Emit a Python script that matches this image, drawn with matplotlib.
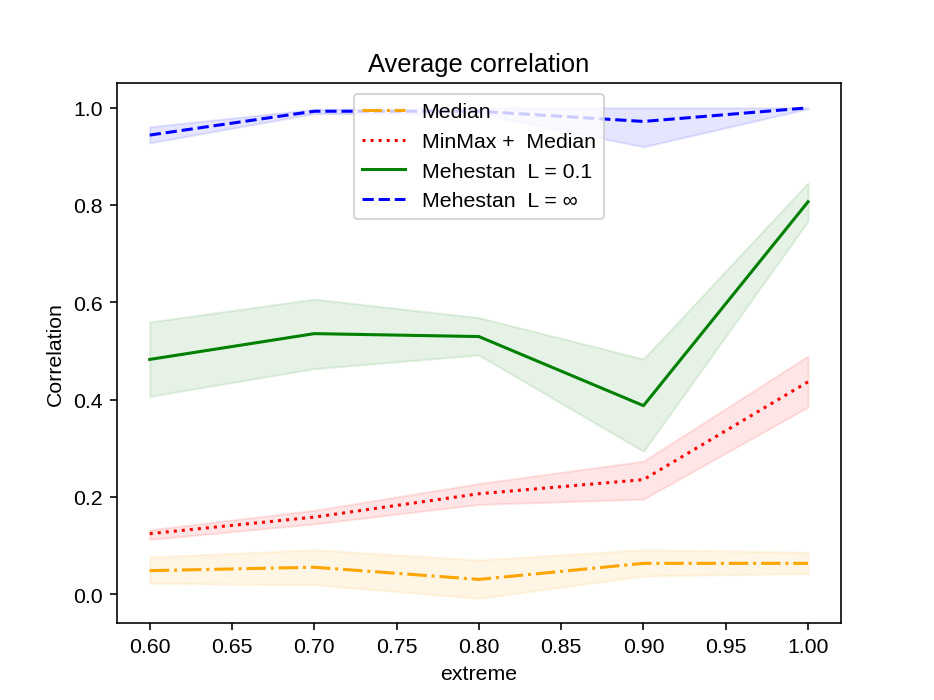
import matplotlib
matplotlib.use("Agg")
import matplotlib.pyplot as plt

plt.rcParams["font.family"] = ["Liberation Sans", "DejaVu Sans"]
plt.rcParams["font.size"] = 10.5

# データ
extreme = [0.6, 0.7, 0.8, 0.9, 1.0]

median_mean = [0.049, 0.056, 0.031, 0.064, 0.064]
median_low = [0.023, 0.020, -0.008, 0.038, 0.043]
median_high = [0.077, 0.092, 0.071, 0.092, 0.087]

minmax_mean = [0.125, 0.159, 0.207, 0.236, 0.437]
minmax_low = [0.113, 0.145, 0.185, 0.196, 0.385]
minmax_high = [0.133, 0.173, 0.228, 0.274, 0.490]

meh01_mean = [0.483, 0.536, 0.530, 0.388, 0.807]
meh01_low = [0.407, 0.464, 0.492, 0.294, 0.767]
meh01_high = [0.560, 0.607, 0.569, 0.484, 0.846]

mehinf_mean = [0.944, 0.993, 0.993, 0.972, 1.0]
mehinf_low = [0.928, 0.988, 0.988, 0.920, 0.998]
mehinf_high = [0.961, 0.997, 1.0, 1.0, 1.0]

series = [
    ("Median", median_mean, median_low, median_high, "orange", "-."),
    ("MinMax +  Median", minmax_mean, minmax_low, minmax_high, "red", ":"),
    ("Mehestan  L = 0.1", meh01_mean, meh01_low, meh01_high, "green", "-"),
    ("Mehestan  L = ∞", mehinf_mean, mehinf_low, mehinf_high, "blue", "--"),
]

fig, ax = plt.subplots(figsize=(6.4, 4.8), dpi=146)

for label, mean, low, high, color, ls in series:
    ax.plot(extreme, mean, color=color, linestyle=ls, label=label)
    ax.fill_between(extreme, low, high, color=color, alpha=0.1)

ax.set_title("Average correlation")
ax.set_xlabel("extreme")
ax.set_ylabel("Correlation")
ax.legend(loc="upper center")

fig.savefig("out.png", dpi=146)
